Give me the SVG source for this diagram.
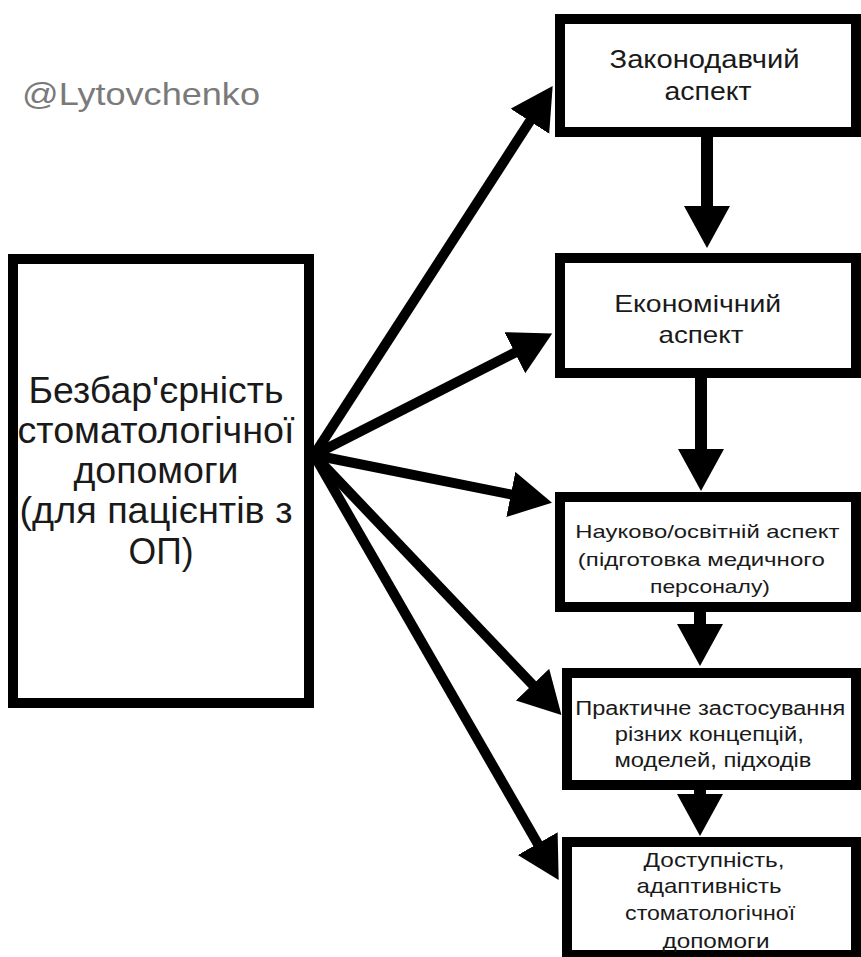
<svg xmlns="http://www.w3.org/2000/svg" width="861" height="957" viewBox="0 0 861 957">
  <style>
    .box { fill: #ffffff; stroke: #000000; stroke-width: 10; }
    .lbl { font-family: "Liberation Sans", Arial, sans-serif; fill: #1a1a1a; text-anchor: middle; }
    .conn { stroke: #000000; fill: none; }
    .diag { stroke-width: 10; }
    .vert { stroke-width: 12; }
    .wm { font-family: "Liberation Sans", Arial, sans-serif; fill: #7a7a7a; font-size: 32px; }
  </style>
  <defs>
    <marker id="head" markerUnits="userSpaceOnUse" markerWidth="44" markerHeight="48" refX="1" refY="23" orient="auto">
      <path d="M0,0 L42,23 L0,46 Z" fill="#000000"/>
    </marker>
  </defs>
  <rect x="0" y="0" width="861" height="957" fill="#ffffff"/>

  <text class="wm" x="22" y="105" textLength="238" lengthAdjust="spacingAndGlyphs">@Lytovchenko</text>

  <g id="connectors">
    <line class="conn diag" x1="314" y1="455" x2="530.4" y2="120.4" marker-end="url(#head)"/>
    <line class="conn diag" x1="314" y1="455" x2="515.7" y2="352.2" marker-end="url(#head)"/>
    <line class="conn diag" x1="314" y1="455" x2="511.8" y2="494.6" marker-end="url(#head)"/>
    <line class="conn diag" x1="314" y1="455" x2="533.2" y2="685.4" marker-end="url(#head)"/>
    <line class="conn diag" x1="314" y1="455" x2="538.2" y2="844.5" marker-end="url(#head)"/>
    <line class="conn vert" x1="707" y1="137" x2="707" y2="207" marker-end="url(#head)"/>
    <line class="conn vert" x1="701" y1="378" x2="701" y2="450" marker-end="url(#head)"/>
    <line class="conn vert" x1="700" y1="612" x2="700" y2="625" marker-end="url(#head)"/>
    <line class="conn vert" x1="700" y1="786" x2="700" y2="795" marker-end="url(#head)"/>
  </g>

  <g id="main">
    <rect class="box" x="13" y="259" width="296" height="444"/>
    <text class="lbl" font-size="36">
      <tspan x="161" y="403" textLength="255" lengthAdjust="spacingAndGlyphs">Безбар'єрність</tspan>
      <tspan x="161" y="443" textLength="277" lengthAdjust="spacingAndGlyphs">стоматологічної</tspan>
      <tspan x="161" y="483" textLength="165" lengthAdjust="spacingAndGlyphs">допомоги</tspan>
      <tspan x="161" y="523" textLength="273" lengthAdjust="spacingAndGlyphs">(для пацієнтів з</tspan>
      <tspan x="161" y="564" textLength="65" lengthAdjust="spacingAndGlyphs">ОП)</tspan>
    </text>
  </g>

  <g id="legislative">
    <rect class="box" x="560" y="19" width="296" height="113"/>
    <text class="lbl" font-size="25">
      <tspan x="708" y="68" textLength="190" lengthAdjust="spacingAndGlyphs">Законодавчий</tspan>
      <tspan x="708" y="100" textLength="87" lengthAdjust="spacingAndGlyphs">аспект</tspan>
    </text>
  </g>

  <g id="economic">
    <rect class="box" x="560" y="258" width="296" height="115"/>
    <text class="lbl" font-size="24">
      <tspan x="701" y="312" textLength="167" lengthAdjust="spacingAndGlyphs">Економічний</tspan>
      <tspan x="701" y="343" textLength="85" lengthAdjust="spacingAndGlyphs">аспект</tspan>
    </text>
  </g>

  <g id="science">
    <rect class="box" x="560" y="497" width="296" height="110"/>
    <text class="lbl" font-size="19">
      <tspan x="710" y="538" textLength="264" lengthAdjust="spacingAndGlyphs">Науково/освітній аспект</tspan>
      <tspan x="704" y="566" textLength="247" lengthAdjust="spacingAndGlyphs">(підготовка медичного</tspan>
      <tspan x="710" y="593" textLength="120" lengthAdjust="spacingAndGlyphs">персоналу)</tspan>
    </text>
  </g>

  <g id="practice">
    <rect class="box" x="567" y="673" width="289" height="112"/>
    <text class="lbl" font-size="20">
      <tspan x="713" y="715" textLength="270" lengthAdjust="spacingAndGlyphs">Практичне застосування</tspan>
      <tspan x="712" y="741" textLength="189" lengthAdjust="spacingAndGlyphs">різних концепцій,</tspan>
      <tspan x="713" y="767" textLength="197" lengthAdjust="spacingAndGlyphs">моделей, підходів</tspan>
    </text>
  </g>

  <g id="accessibility">
    <rect class="box" x="567" y="842" width="289" height="113"/>
    <text class="lbl" font-size="21">
      <tspan x="717" y="867" textLength="141" lengthAdjust="spacingAndGlyphs">Доступність,</tspan>
      <tspan x="712" y="893" textLength="145" lengthAdjust="spacingAndGlyphs">адаптивність</tspan>
      <tspan x="713" y="920" textLength="170" lengthAdjust="spacingAndGlyphs">стоматологічної</tspan>
      <tspan x="716" y="948" textLength="107" lengthAdjust="spacingAndGlyphs">допомоги</tspan>
    </text>
  </g>
</svg>
